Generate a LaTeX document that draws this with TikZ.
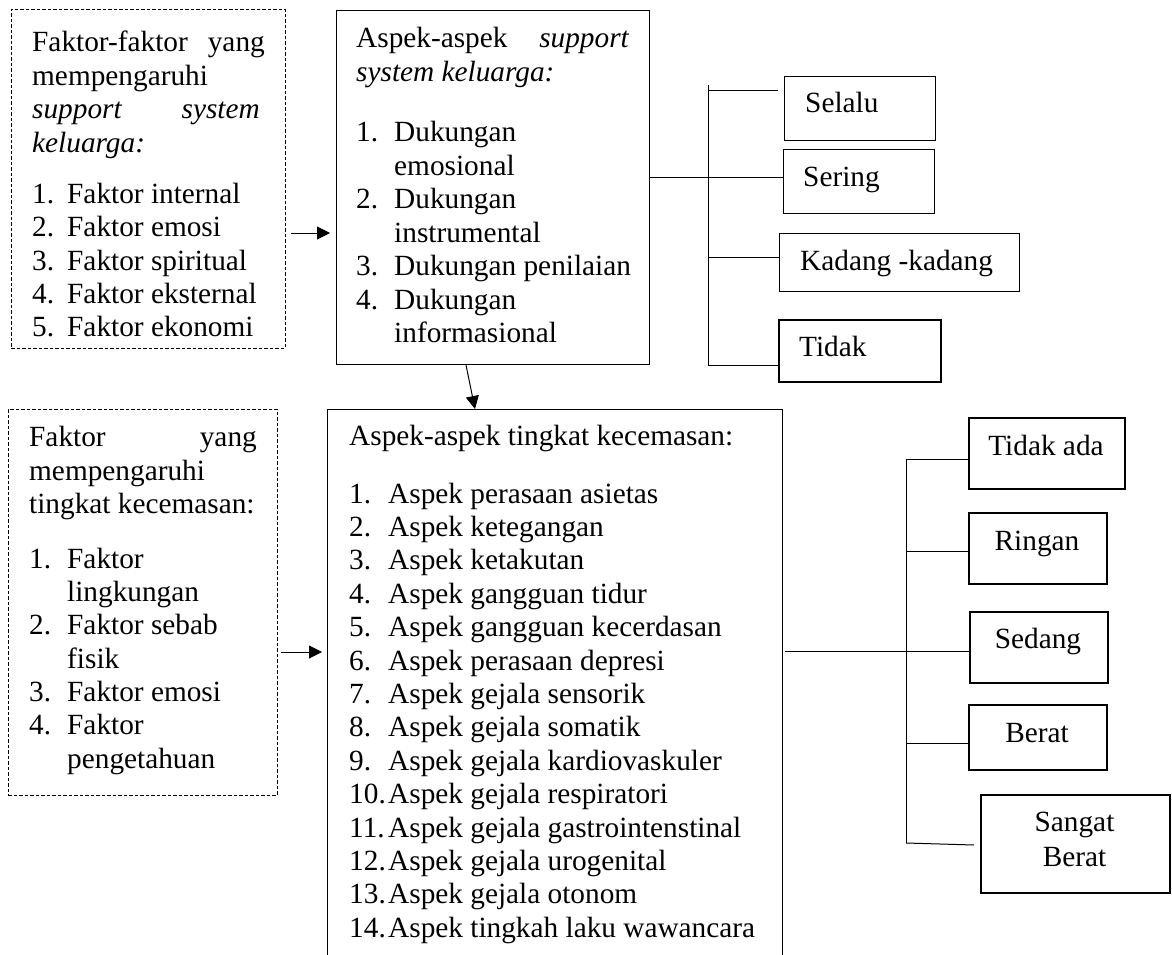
\documentclass[tikz,border=0pt]{standalone}
\usepackage{fontspec}
\setmainfont{Liberation Serif}
\usetikzlibrary{arrows.meta}
\newcommand\fsz{\fontsize{29.3}{33.4}\selectfont}
\begin{document}
\begin{tikzpicture}[x=1pt,y=-1pt,
  box/.style={draw=black, line width=1pt, anchor=north west, inner sep=0pt},
  dbox/.style={box, line width=0.9pt, dash pattern=on 3.5pt off 2pt},
  tbox/.style={box, line width=1.7pt},
  mbox/.style={box, line width=1.3pt},
  t/.style={anchor=base west, inner sep=0pt, font=\fsz},
  tr/.style={anchor=base east, inner sep=0pt, font=\fsz},
  tc/.style={anchor=base, inner sep=0pt, font=\fsz},
  con/.style={draw=black, line width=1pt},
  arr/.style={con, -{Triangle[length=13pt,width=13pt]}}]
\useasboundingbox (0,0) rectangle (1172,955);

% ---- boxes ----
\node[dbox, minimum width=274pt, minimum height=339pt] (f1) at (11,9) {};
\node[box, minimum width=313pt, minimum height=354pt] (a1) at (336,10) {};
\node[dbox, minimum width=269pt, minimum height=386pt] (f2) at (8,409) {};
\node[box, minimum width=455pt, minimum height=600pt] (a2) at (327,409) {};

\node[mbox, minimum width=151pt, minimum height=64pt] (selalu) at (784,76) {};
\node[mbox, minimum width=151pt, minimum height=64pt] (sering) at (783,149) {};
\node[mbox, minimum width=240pt, minimum height=58pt] (kadang) at (779,233) {};
\node[tbox, minimum width=162pt, minimum height=62pt] (tidak) at (778,319) {};

\node[tbox, minimum width=156pt, minimum height=71pt] (tidakada) at (968,417) {};
\node[tbox, minimum width=138pt, minimum height=71pt] (ringan) at (968,512) {};
\node[tbox, minimum width=138pt, minimum height=71pt] (sedang) at (969,611) {};
\node[tbox, minimum width=138pt, minimum height=65pt] (berat) at (968,704) {};
\node[tbox, minimum width=189pt, minimum height=98pt] (sangat) at (980,794) {};

% ---- box 1 text ----
\node[t] (f1h1) at (32,52) {Faktor-faktor};
\node[tr] (f1h1b) at (265,52) {yang};
\node[t] (f1h2) at (32,85.3) {mempengaruhi};
\node[t] (f1h3) at (32,118.6) {\itshape support};
\node[tr] (f1h3b) at (260,118.6) {\itshape system};
\node[t] (f1h4) at (32,152) {\itshape keluarga:};
\foreach \n/\txt [count=\k from 0] in {1./Faktor internal,2./Faktor emosi,3./Faktor spiritual,4./Faktor eksternal,5./Faktor ekonomi}{
  \node[t] (f1n\k) at (32,203.5+33.3*\k) {\n};
  \node[t] (f1i\k) at (67,203.5+33.3*\k) {\txt};
}

% ---- box 2 text ----
\node[t] (a1h1) at (356,47.7) {Aspek-aspek};
\node[tr] (a1h1b) at (629,47.7) {\itshape support};
\node[t] (a1h2) at (356,81.7) {\itshape system keluarga:};
\foreach \n/\txt [count=\k from 0] in {1./Dukungan,/emosional,2./Dukungan,/instrumental,3./Dukungan penilaian,4./Dukungan,/informasional}{
  \node[t] (a1n\k) at (356,141.7+33.5*\k) {\n};
  \node[t] (a1i\k) at (394,141.7+33.5*\k) {\txt};
}

% ---- box 3 text ----
\node[t] (f2h1) at (29,446.7) {Faktor};
\node[tr] (f2h1b) at (257,446.7) {yang};
\node[t] (f2h2) at (29,480) {mempengaruhi};
\node[t] (f2h3) at (29,513.3) {tingkat kecemasan:};
\foreach \n/\txt [count=\k from 0] in {1./Faktor,/lingkungan,2./Faktor sebab,/fisik,3./Faktor emosi,4./Faktor,/pengetahuan}{
  \node[t] (f2n\k) at (29,568.3+33.33*\k) {\n};
  \node[t] (f2i\k) at (67,568.3+33.33*\k) {\txt};
}

% ---- box 4 text ----
\node[t] (a2h) at (349,445) {Aspek-aspek tingkat kecemasan:};
\foreach \txt [count=\k] in {Aspek perasaan asietas,Aspek ketegangan,Aspek ketakutan,Aspek gangguan tidur,Aspek gangguan kecerdasan,Aspek perasaan depresi,Aspek gejala sensorik,Aspek gejala somatik,Aspek gejala kardiovaskuler,Aspek gejala respiratori,Aspek gejala gastrointenstinal,Aspek gejala urogenital,Aspek gejala otonom,Aspek tingkah laku wawancara}{
  \node[t] (a2n\k) at (349,503+33.4*\k-33.4) {\k.};
  \node[t] (a2i\k) at (388,503+33.4*\k-33.4) {\txt};
}

% ---- tree 1 labels ----
\node[t] (lselalu) at (805,112.3) {Selalu};
\node[t] (lsering) at (803,186) {Sering};
\node[t] (lkadang) at (800,270) {Kadang -kadang};
\node[t] (ltidak) at (799,356.7) {Tidak};

% ---- tree 2 labels ----
\node[tc] (ltidakada) at (1046,455) {Tidak ada};
\node[tc] (lringan) at (1037,550) {Ringan};
\node[tc] (lsedang) at (1038,648) {Sedang};
\node[tc] (lberat) at (1037,742.7) {Berat};
\node[tc] (lsangat1) at (1074.5,831) {Sangat};
\node[tc] (lsangat2) at (1074.5,866.7) {Berat};

% ---- arrows ----
\draw[arr, shorten <=5pt, shorten >=6pt] (f1.east |- 0,233) -- (a1.west |- 0,233);
\draw[arr] (a1.south -| 466,0) -- (a2.north -| 475,0);
\draw[arr, shorten <=3pt, shorten >=5pt] (f2.east |- 0,652) -- (a2.west |- 0,652);

% ---- tree 1 connectors ----
\coordinate (t1top) at (708,85);
\coordinate (t1bot) at (708,365);
\coordinate (t1b1) at (778,91);
\draw[con] (a1.east |- 0,177) -- (sering.west |- 0,177);
\draw[con] (t1top) -- (t1bot);
\draw[con] (t1top |- t1b1) -- (t1b1);
\draw[con] (t1top |- 0,257) -- (kadang.west |- 0,257);
\draw[con] (t1bot) -- (tidak.west |- t1bot);

% ---- tree 2 connectors ----
\coordinate (t2top) at (906,459);
\coordinate (t2bot) at (906,843);
\coordinate (t2end) at (974,845);
\draw[con] ([xshift=2pt]a2.east |- 0,651) -- (sedang.west |- 0,651);
\draw[con] (t2top) -- (t2bot);
\draw[con] (t2top) -- (tidakada.west |- t2top);
\draw[con] (t2top |- 0,551) -- (ringan.west |- 0,551);
\draw[con] (t2top |- 0,743) -- (berat.west |- 0,743);
\draw[con] (t2bot) -- (t2end);
\end{tikzpicture}
\end{document}
